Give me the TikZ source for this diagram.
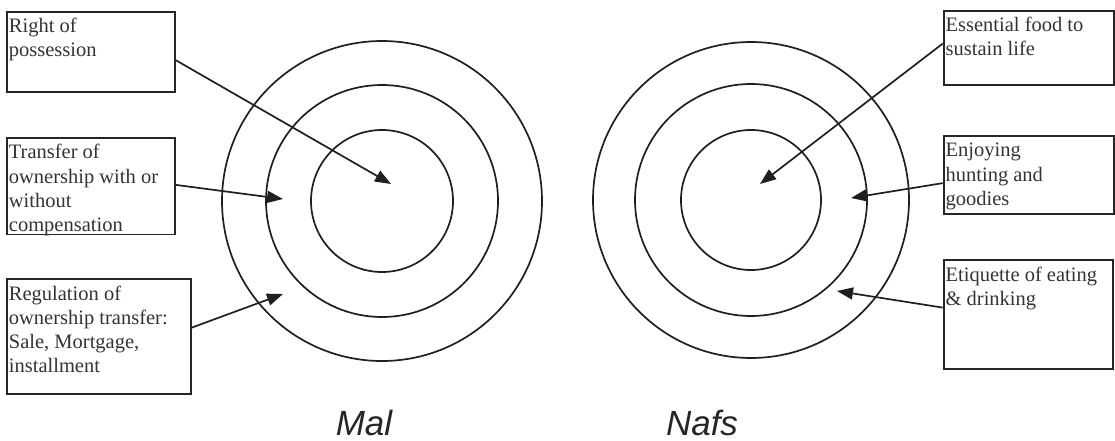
\documentclass[tikz,border=0pt]{standalone}
\usepackage{fontspec}
\setmainfont{Liberation Serif}
\newfontfamily\labelfont{Liberation Sans}
\usetikzlibrary{arrows.meta}
\newcommand{\boxtxt}[3]{\parbox[c][#2][t]{#1}{\fontsize{20.5}{24.3}\selectfont\raggedright\rule{0pt}{16.8pt}#3}}
\begin{document}
\begin{tikzpicture}[x=1pt,y=-1pt,
  txtbox/.style={draw=black!85, line width=1.8pt, inner xsep=2pt, inner ysep=4pt, anchor=north west, text=black!80},
  ring/.style={draw=black!88, line width=1.7pt},
  conn/.style={draw=black!88, line width=1.7pt, -{Triangle[length=16pt,width=12pt]}},
  title/.style={font=\labelfont\itshape\fontsize{35}{40}\selectfont, text=black!85, anchor=base}]
\useasboundingbox (0,0) rectangle (1115,441);
% rings
\foreach \r in {71,116,160} \draw[ring] (382,201) circle[radius=\r];
\foreach \r in {70,116,158} \draw[ring] (751,200) circle[radius=\r];
% boxes
\node[txtbox] (b1) at (6,11) {\boxtxt{164pt}{72pt}{Right of\\possession}};
\node[txtbox] (b2) at (6,137) {\boxtxt{164pt}{88.6pt}{Transfer of\\ownership with or\\without\\compensation}};
\node[txtbox] (b3) at (6,278.3) {\boxtxt{180pt}{106.4pt}{Regulation of\\ownership transfer:\\Sale, Mortgage,\\installment}};
\node[txtbox] (b4) at (942.7,10) {\boxtxt{166.6pt}{66pt}{Essential food to\\sustain life}};
\node[txtbox] (b5) at (942.7,135) {\boxtxt{166.6pt}{70.3pt}{Enjoying\\hunting and\\goodies}};
\node[txtbox] (b6) at (942.7,259.3) {\boxtxt{165.6pt}{101pt}{Etiquette of eating\\\& drinking}};
% arrow tips
\coordinate (t1) at (391,184);
\coordinate (t2) at (283,199);
\coordinate (t3) at (283,294);
\coordinate (t4) at (760,184);
\coordinate (t5) at (851,198);
\coordinate (t6) at (837,291);
\draw[conn] ([yshift=-8.3pt]b1.east) -- (t1);
\draw[conn] ([yshift=1.3pt]b2.east) -- (t2);
\draw[conn] ([yshift=8.8pt]b3.east) -- (t3);
\draw[conn] ([yshift=4.3pt]b4.west) -- (t4);
\draw[conn] ([yshift=-8.1pt]b5.west) -- (t5);
\draw[conn] ([yshift=7.1pt]b6.west) -- (t6);
% labels
\node[title] (mal) at (364,435) {Mal};
\node[title] (nafs) at (702,435) {Nafs};
\end{tikzpicture}
\end{document}
